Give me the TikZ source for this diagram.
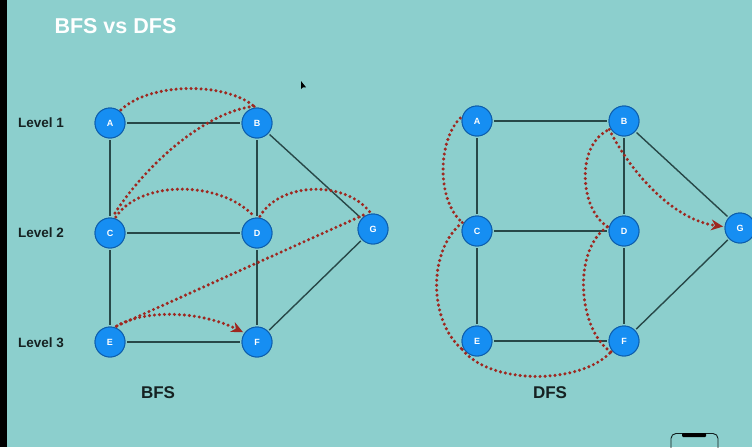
\documentclass[tikz,border=0pt]{standalone}
\usepackage{fontspec}
\setmainfont{Liberation Sans}
\usetikzlibrary{arrows.meta}
\definecolor{bg}{RGB}{140,207,205}
\definecolor{nodefill}{RGB}{22,142,242}
\definecolor{nodeline}{RGB}{12,92,170}
\definecolor{edgecol}{RGB}{40,72,72}
\definecolor{trav}{RGB}{158,40,32}
\definecolor{txt}{RGB}{22,34,34}
\tikzset{
  vert/.style={circle, fill=nodefill, draw=nodeline, line width=0.9pt, minimum size=30pt, inner sep=0pt, outer sep=2pt, text=white, font=\bfseries\fontsize{9}{9}\selectfont},
  edge/.style={draw=edgecol, line width=1.4pt},
  trail/.style={draw=trav, line width=3.4pt, line cap=round, dash pattern=on 0pt off 5pt},
  trailarrow/.style={trail, -{Stealth[length=12pt,width=11pt,fill=trav,line width=0pt]}},
  lvl/.style={text=txt, font=\bfseries\fontsize{13.5}{14}\selectfont, anchor=west},
  caption/.style={text=txt, font=\bfseries\fontsize{17}{18}\selectfont}
}
\begin{document}
\begin{tikzpicture}[x=1pt,y=-1pt]
\useasboundingbox (0,0) rectangle (752,447);
\fill[bg] (0,0) rectangle (752,447);
\fill[black] (0,0) rectangle (7,447);
\node[text=white, font=\bfseries\fontsize{21.5}{23}\selectfont, anchor=west] (title) at (51,26) {BFS vs DFS};
\fill[black] (301,81) -- (301,89) -- (303,87.3) -- (306,87.3) -- cycle;
% phone icon
\draw[draw=black!60!edgecol, line width=0.9pt, rounded corners=5pt] (671,452) -- (671,433.5) -- (718,433.5) -- (718,452);
\fill[black, rounded corners=1pt] (682,433) rectangle (706,437);
% level labels
\node[lvl] (l1) at (14.5,123) {Level 1};
\node[lvl] (l2) at (14.5,233) {Level 2};
\node[lvl] (l3) at (14.5,343) {Level 3};
% BFS graph
\node[vert] (A) at (110,123) {A};
\node[vert] (B) at (257,123) {B};
\node[vert] (C) at (110,233) {C};
\node[vert] (D) at (257,233) {D};
\node[vert] (G) at (373,229) {G};
\node[vert] (E) at (110,342) {E};
\node[vert] (F) at (257,342) {F};
\node[caption] (bfs) at (158,393) {BFS};
% DFS graph
\node[vert] (A2) at (477,121) {A};
\node[vert] (B2) at (624,121) {B};
\node[vert] (C2) at (477,231) {C};
\node[vert] (D2) at (624,231) {D};
\node[vert] (G2) at (740,228) {G};
\node[vert] (E2) at (477,341) {E};
\node[vert] (F2) at (624,341) {F};
\node[caption] (dfs) at (550,393) {DFS};
% edges
\foreach \s in {,2}{
  \path[edge] (A\s) -- (B\s);
  \path[edge] (A\s) -- (C\s);
  \path[edge] (C\s) -- (E\s);
  \path[edge] (B\s) -- (D\s);
  \path[edge] (D\s) -- (F\s);
  \path[edge] (C\s) -- (D\s);
  \path[edge] (E\s) -- (F\s);
  \path[edge] (B\s) -- (G\s);
  \path[edge] (G\s) -- (F\s);
}
% redraw nodes on top of edges
\foreach \n/\x/\y/\l in {A/110/123/A, B/257/123/B, C/110/233/C, D/257/233/D, G/373/229/G, E/110/342/E, F/257/342/F,
  A2/477/121/A, B2/624/121/B, C2/477/231/C, D2/624/231/D, G2/740/228/G, E2/477/341/E, F2/624/341/F}{
  \node[vert] at (\x,\y) {\l};
}
% BFS traversal
\path[trail] (A.50) .. controls (150,82) and (225,82) .. (B.100);
\path[trail] (B.100) .. controls (205,112) and (145,165) .. (C.80);
\path[trail] (C.70) .. controls (140,180) and (220,180) .. (D.100);
\path[trail] (D.80) .. controls (280,182) and (345,180) .. (G.100);
\path[trail] (G.125) -- (E.68);
\path[trailarrow] (E.68) .. controls (145,309) and (200,311) .. (F.145);
% DFS traversal
\path[trail] (A2.170) .. controls (438,140) and (436,200) .. (C2.150);
\path[trail] (C2.150) .. controls (428,250) and (428,320) .. (E2.210);
\path[trail] (E2.210) .. controls (490,385) and (580,385) .. (F2.220);
\path[trail] (F2.220) .. controls (578,330) and (572,250) .. (D2.165);
\path[trail] (D2.165) .. controls (580,210) and (575,145) .. (B2.210);
\path[trailarrow] (B2.210) .. controls (632,175) and (675,220) .. (G2.175);
\end{tikzpicture}
\end{document}
